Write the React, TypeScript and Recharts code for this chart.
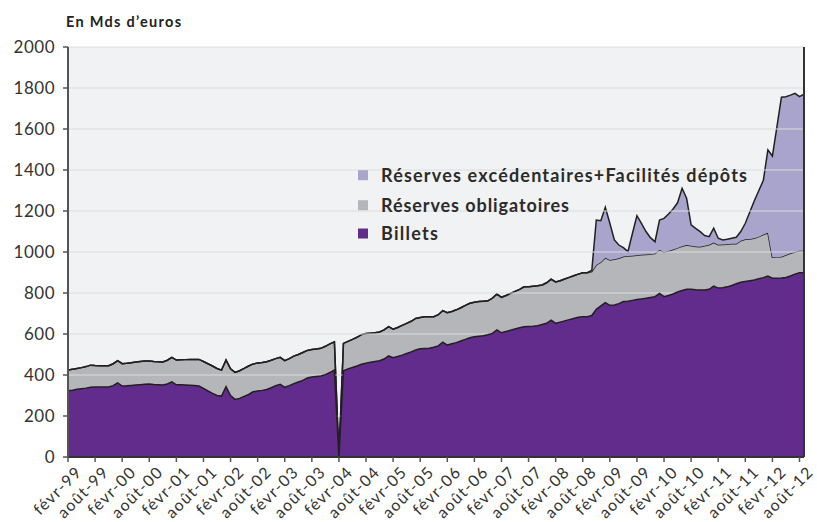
import { AreaChart, Area, XAxis, YAxis, CartesianGrid, ReferenceLine, Legend } from "recharts";

// one point per month, févr-99 (index 0) to sept-12 (index 163)
const tickLabels = [
  "févr-99", "août-99", "févr-00", "août-00", "févr-01", "août-01", "févr-02",
  "août-02", "févr-03", "août-03", "févr-04", "août-04", "févr-05", "août-05",
  "févr-06", "août-06", "févr-07", "août-07", "févr-08", "août-08", "févr-09",
  "août-09", "févr-10", "août-10", "févr-11", "août-11", "févr-12", "août-12",
];

const billets = [
  323, 326, 330, 333, 336, 340, 342, 342, 342, 342, 348,
  362, 346, 347, 349, 351, 353, 355, 356, 354, 353, 351, 356,
  367, 352, 352, 351, 350, 349, 346, 335, 322, 310, 300, 297,
  343, 300, 281, 286, 296, 305, 318, 322, 325, 329, 338, 348,
  355, 340, 348, 358, 366, 374, 385, 390, 393, 395, 402, 412,
  424, 0, 421, 430, 437, 444, 452, 458, 462, 466, 470, 478,
  493, 484, 490, 497, 505, 513, 522, 528, 529, 530, 535, 542,
  560, 546, 552, 558, 566, 574, 582, 587, 589, 591, 596, 603,
  620, 606, 612, 618, 624, 630, 635, 637, 638, 640, 646, 652,
  668, 652, 658, 664, 670, 676, 682, 684, 684, 690, 720, 737,
  753, 740, 742, 748, 758, 760, 764, 768, 771, 774, 778, 782,
  798, 782, 788, 795, 805, 812, 818, 818, 816, 815, 815, 818,
  834, 824, 826, 830, 837, 845, 852, 856, 860, 863, 870, 875,
  883, 872, 872, 873, 876, 883, 892, 899, 899,
];

const reservesObligatoires = [
  101, 102, 102, 103, 105, 108, 104, 103, 103, 103, 107,
  108, 109, 110, 111, 112, 113, 113, 112, 112, 112, 113, 116,
  119, 121, 122, 124, 126, 127, 130, 131, 133, 134, 132, 127,
  130, 130, 132, 135, 136, 139, 136, 136, 136, 136, 134, 132,
  131, 130, 132, 134, 134, 136, 135, 134, 134, 135, 138, 140,
  138, 0, 133, 134, 137, 140, 145, 144, 142, 140, 140, 142,
  143, 140, 142, 145, 147, 149, 154, 153, 155, 154, 149, 152,
  154, 158, 158, 160, 162, 166, 168, 168, 169, 169, 166, 172,
  175, 173, 176, 180, 184, 188, 195, 194, 195, 195, 193, 198,
  199, 202, 202, 204, 206, 208, 210, 215, 215, 215, 217, 213,
  219, 221, 223, 221, 220, 220, 218, 216, 215, 214, 212, 210,
  212, 218, 217, 217, 215, 216, 216, 212, 211, 211, 215, 217,
  212, 211, 210, 208, 203, 195, 203, 206, 204, 204, 205, 210,
  211, 102, 103, 104, 109, 111, 108, 107, 107,
];

const reservesExcedentaires = [
  0, 0, 0, 0, 0, 0, 0, 0, 0, 0, 0,
  0, 0, 0, 0, 0, 0, 0, 0, 0, 0, 0, 0,
  0, 0, 0, 0, 0, 0, 0, 0, 0, 0, 0, 0,
  0, 0, 0, 0, 0, 0, 0, 0, 0, 0, 0, 0,
  0, 0, 0, 0, 0, 0, 0, 0, 0, 0, 0, 0,
  0, 0, 0, 0, 0, 0, 0, 0, 0, 0, 0, 0,
  0, 0, 0, 0, 0, 0, 0, 0, 0, 0, 0, 0,
  0, 0, 0, 0, 0, 0, 0, 0, 0, 0, 0, 0,
  0, 0, 0, 0, 0, 0, 0, 0, 0, 0, 0, 0,
  0, 0, 0, 0, 0, 0, 0, 0, 0, 5, 219, 203,
  246, 179, 94, 65, 43, 22, 108, 193, 154, 112, 80, 58,
  146, 164, 180, 198, 220, 283, 228, 102, 88, 73, 50, 40,
  70, 32, 23, 24, 27, 32, 45, 78, 131, 183, 225, 265,
  404, 494, 635, 778, 772, 771, 774, 752, 764,
];

const yTicks = [0, 200, 400, 600, 800, 1000, 1200, 1400, 1600, 1800, 2000];
const xTicks = tickLabels.map((_, k) => k * 6);

const data = billets.map((b, i) => ({
  m: i,
  billets: b,
  obligatoires: reservesObligatoires[i],
  excedentaires: reservesExcedentaires[i],
}));

const series = [
  { name: "Réserves excédentaires+Facilités dépôts", color: "#a9a4cc", width: 366 },
  { name: "Réserves obligatoires", color: "#b5b6b9", width: 188 },
  { name: "Billets", color: "#622c8c", width: 57 },
];

const FONT = "Lato, 'Open Sans', sans-serif";

function XTick(props: any) {
  const { x, y, payload } = props;
  const label = tickLabels[Math.round(payload.value / 6)];
  const ax = x + 15;
  const ay = y + 9;
  return (
    <text
      x={ax}
      y={ay}
      transform={`rotate(-45, ${ax}, ${ay})`}
      textAnchor="end"
      fontSize={16}
      letterSpacing={1.3}
      fill="#333"
      fontFamily={FONT}
    >
      {label}
    </text>
  );
}

function LegendBox() {
  return (
    <svg width={420} height={90}>
      {series.map((s, i) => {
        const base = [21.7, 51.7, 80][i];
        return (
          <g key={s.name}>
            <rect x={8} y={base - 11.5} width={10} height={10} fill={s.color} />
            <text
              x={31}
              y={base}
              fontSize={18}
              fontWeight={700}
              fill="#2b2b2b"
              fontFamily={FONT}
              textLength={s.width}
              lengthAdjust="spacing"
            >
              {s.name}
            </text>
          </g>
        );
      })}
    </svg>
  );
}

export default function App() {
  return (
    <div style={{ position: "absolute", left: 0, top: 0, width: 817, height: 522, background: "#fff" }}>
      <svg width={817} height={40} style={{ position: "absolute", left: 0, top: 0 }}>
        <text x={66} y={27} fontSize={14.5} fontWeight={700} fill="#222" fontFamily={FONT} textLength={115} lengthAdjust="spacing">
          En Mds d’euros
        </text>
      </svg>
      <div style={{ position: "absolute", left: 0, top: 0 }}>
        <AreaChart width={817} height={522} data={data} margin={{ top: 47, right: 13, bottom: 0, left: 0 }}>
          <CartesianGrid horizontal={false} vertical={false} fill="#f1f2f4" stroke="none" zIndex={-100} />
          <XAxis
            dataKey="m"
            type="number"
            domain={[0, 163]}
            ticks={xTicks}
            interval={0}
            tick={<XTick />}
            tickSize={5}
            tickLine={{ stroke: "#555", strokeWidth: 1.5 }}
            axisLine={{ stroke: "#333", strokeWidth: 2 }}
            height={65}
            allowDataOverflow
          />
          <YAxis
            domain={[0, 2000]}
            ticks={yTicks}
            interval={0}
            width={68}
            tickSize={5}
            tickMargin={8}
            tick={{ fontSize: 17, fill: "#333", fontFamily: FONT, letterSpacing: 0.5 }}
            tickLine={{ stroke: "#555", strokeWidth: 1.5 }}
            axisLine={{ stroke: "#555", strokeWidth: 2 }}
            allowDataOverflow
          />
          <Area
            type="linear"
            dataKey="billets"
            stackId="a"
            fill="#622c8c"
            fillOpacity={1}
            stroke="#231f20"
            strokeWidth={1.5}
            isAnimationActive={false}
            activeDot={false}
            zIndex={100}
          />
          <Area
            type="linear"
            dataKey="obligatoires"
            stackId="a"
            fill="#b5b6b9"
            fillOpacity={1}
            stroke="#231f20"
            strokeWidth={1.5}
            isAnimationActive={false}
            activeDot={false}
            zIndex={100}
          />
          <Area
            type="linear"
            dataKey="excedentaires"
            stackId="a"
            fill="#a9a4cc"
            fillOpacity={1}
            stroke="#231f20"
            strokeWidth={1.5}
            isAnimationActive={false}
            activeDot={false}
            zIndex={100}
          />
          <CartesianGrid vertical={false} stroke="#dadbde" strokeWidth={1.2} fill="none" zIndex={150} />
          <Area
            type="linear"
            dataKey="billets"
            stackId="top"
            fill="#622c8c"
            fillOpacity={1}
            stroke="#231f20"
            strokeWidth={1.5}
            isAnimationActive={false}
            activeDot={false}
            legendType="none"
            zIndex={200}
          />
          <ReferenceLine x={163} stroke="#333" strokeWidth={2} zIndex={400} />
          <Legend
            layout="horizontal"
            verticalAlign="middle"
            align="center"
            content={<LegendBox />}
            wrapperStyle={{ position: "absolute", left: 350, top: 160, width: 420, height: 90 }}
          />
        </AreaChart>
      </div>
    </div>
  );
}
